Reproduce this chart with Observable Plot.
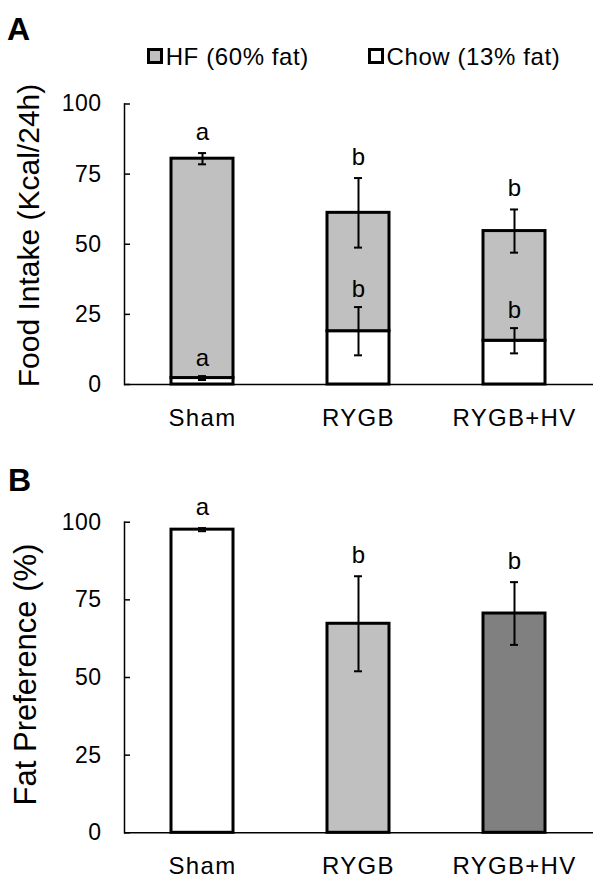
<!DOCTYPE html>
<html>
<head>
<meta charset="utf-8">
<script src="https://cdn.jsdelivr.net/npm/d3@7"></script>
<script src="https://cdn.jsdelivr.net/npm/@observablehq/plot@0.6"></script>
<style>
  html, body { margin: 0; padding: 0; background: white; }
  #wrap { position: relative; width: 602px; height: 880px; background: white; font-family: "Liberation Sans", Arial, sans-serif; color: black; }
  .chart { position: absolute; left: 0; }
  .panel { position: absolute; font-size: 32px; font-weight: bold; line-height: 32px; }
  .leg { position: absolute; top: 44.7px; display: flex; align-items: flex-start; font-size: 24px; line-height: 24px; letter-spacing: 0.6px; white-space: nowrap; }
  .sw { width: 16px; height: 16px; box-sizing: border-box; border: 3px solid black; margin-top: 3.6px; margin-right: 3px; }
  g[aria-label="x-axis tick label"] text { letter-spacing: 1.3px; }
  g[aria-label="y-axis tick label"] text { letter-spacing: 0.5px; }
</style>
</head>
<body>
<div id="wrap">
  <div id="chartA" class="chart" style="top:0"></div>
  <div id="chartB" class="chart" style="top:440px"></div>
  <div class="panel" style="left:7px;top:13.4px">A</div>
  <div class="panel" style="left:8px;top:464px">B</div>
  <div id="legend"></div>
</div>
<script>
// ---- data ----
const groups = ["Sham", "RYGB", "RYGB+HV"];
const diets = ["Chow", "HF"];
const legendLabels = ["HF (60% fat)", "Chow (13% fat)"];
const chowKcal = [2.3, 19.0, 15.6];
const chowSem = [0.7, 8.6, 4.5];
const hfKcal = [78.2, 42.2, 39.1];
const hfSem = [2.0, 12.4, 7.7];
const chowLetters = ["a", "b", "b"];
const hfLetters = ["a", "b", "b"];
const yTicks = [0, 25, 50, 75, 100];
const fatPref = [97.6, 67.3, 70.6];
const fatPrefSem = [0.5, 15.3, 10.1];
const prefLetters = ["a", "b", "b"];
const yLabelA = "Food Intake (Kcal/24h)";
const yLabelB = "Fat Preference (%)";

// ---- styles ----
const dietColors = ["white", "#c0c0c0"];
const groupColors = ["white", "#c0c0c0", "#808080"];
const font = "'Liberation Sans', Arial, sans-serif";

// ---- derived tables ----
const intake = groups.flatMap((g, i) => [
  {group: g, diet: diets[0], value: chowKcal[i]},
  {group: g, diet: diets[1], value: hfKcal[i]}
]);
const errChow = groups.map((g, i) => ({
  group: g, lo: chowKcal[i] - chowSem[i], hi: chowKcal[i] + chowSem[i], letter: chowLetters[i]
}));
const errHF = groups.map((g, i) => {
  const top = chowKcal[i] + hfKcal[i];
  return {group: g, lo: top - hfSem[i], hi: top + hfSem[i], letter: hfLetters[i]};
});
const pref = groups.map((g, i) => ({
  group: g, value: fatPref[i], lo: fatPref[i] - fatPrefSem[i], hi: fatPref[i] + fatPrefSem[i], letter: prefLetters[i]
}));

const xScale = {domain: groups, paddingInner: 0.6, paddingOuter: 0.3};
const yAxis = () => Plot.axisY({ticks: yTicks, tickSize: -6, tickPadding: 29, fontSize: 23, label: null, strokeWidth: 1.5});
const xAxis = () => Plot.axisX({tickSize: 0, tickPadding: 24, fontSize: 24, label: null});
const errMarks = (data, letterDy, size) => [
  Plot.ruleX(data, {x: "group", y1: "lo", y2: "hi", stroke: "black", strokeWidth: 2}),
  Plot.tickY(data, {x: "group", y: "hi", stroke: "black", strokeWidth: 2, insetLeft: 27, insetRight: 27}),
  Plot.tickY(data, {x: "group", y: "lo", stroke: "black", strokeWidth: 2, insetLeft: 27, insetRight: 27}),
  Plot.text(data, {x: "group", y: "hi", text: "letter", lineAnchor: "bottom", dy: letterDy, fontSize: size})
];

// ---- Panel A ----
const chartA = Plot.plot({
  width: 602, height: 440,
  marginLeft: 124, marginRight: 9, marginTop: 103.5, marginBottom: 56,
  style: {fontFamily: font, fontSize: "24px", background: "white", color: "black"},
  x: xScale,
  y: {domain: [0, 100]},
  color: {domain: diets, range: dietColors},
  marks: [
    Plot.barY(intake, {x: "group", y: "value", fill: "diet", stroke: "black", strokeWidth: 3}),
    ...errMarks(errChow, -10, 24),
    ...errMarks(errHF, -13, 24),
    Plot.frame({anchor: "left", strokeWidth: 1.5}),
    Plot.ruleY([0], {strokeWidth: 1.5}),
    yAxis(),
    xAxis(),
    Plot.text([yLabelA], {frameAnchor: "left", rotate: -90, dx: -95.6, dy: -8.75, fontSize: 30, textAnchor: "middle", lineAnchor: "middle"})
  ]
});
document.getElementById("chartA").append(chartA);

// ---- Panel B ----
const chartB = Plot.plot({
  width: 602, height: 440,
  marginLeft: 124, marginRight: 9, marginTop: 81.7, marginBottom: 47.7,
  style: {fontFamily: font, fontSize: "24px", background: "white", color: "black"},
  x: xScale,
  y: {domain: [0, 100]},
  color: {domain: groups, range: groupColors},
  marks: [
    Plot.barY(pref, {x: "group", y: "value", fill: "group", stroke: "black", strokeWidth: 3}),
    ...errMarks(pref, -13, 24),
    Plot.frame({anchor: "left", strokeWidth: 1.5}),
    Plot.ruleY([0], {strokeWidth: 1.5}),
    yAxis(),
    xAxis(),
    Plot.text([yLabelB], {frameAnchor: "left", rotate: -90, dx: -98.6, dy: -3, fontSize: 31, textAnchor: "middle", lineAnchor: "middle"})
  ]
});
document.getElementById("chartB").append(chartB);

// ---- Legend (HF, Chow) ----
const legendLefts = [146.7, 367.5];
const legendFills = [dietColors[1], dietColors[0]];
const legend = document.getElementById("legend");
legendLabels.forEach((lab, i) => {
  const item = document.createElement("div");
  item.className = "leg";
  item.style.left = legendLefts[i] + "px";
  const sw = document.createElement("div");
  sw.className = "sw";
  sw.style.background = legendFills[i];
  const t = document.createElement("span");
  t.textContent = lab;
  item.append(sw, t);
  legend.append(item);
});
</script>
</body>
</html>
